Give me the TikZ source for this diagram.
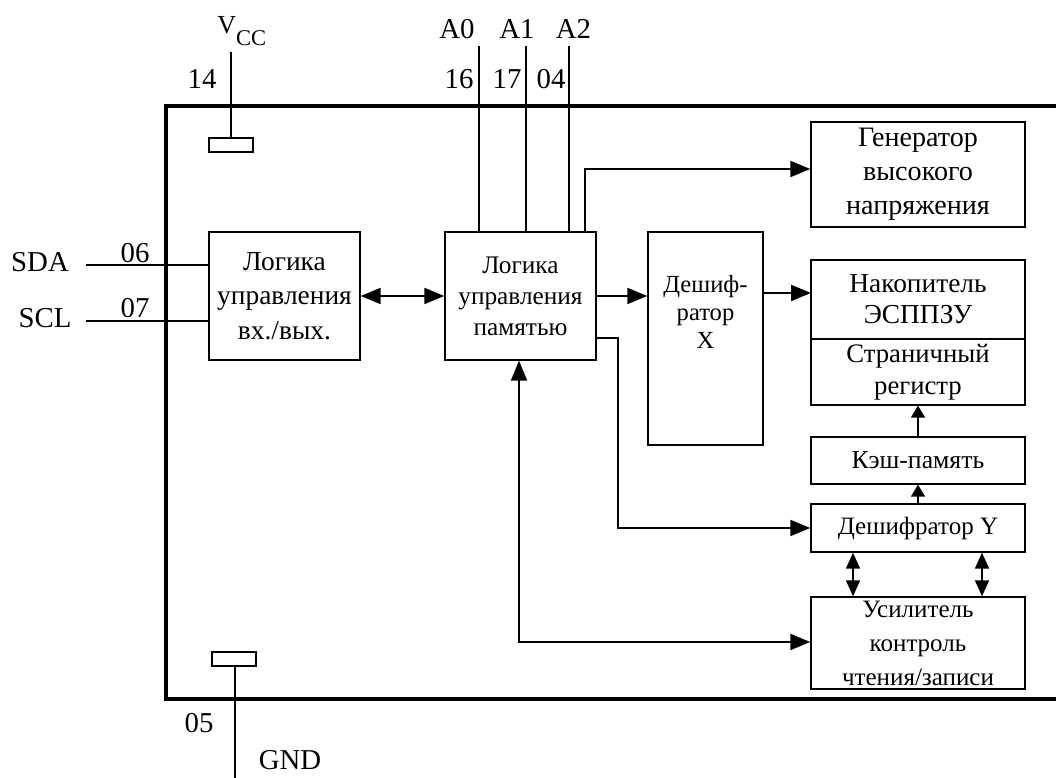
\documentclass[tikz,border=0pt]{standalone}
\usepackage{fontspec}
\setmainfont{Liberation Serif}
\usetikzlibrary{arrows.meta}
\pgfdeclarelayer{edgelayer}
\pgfdeclarelayer{nodelayer}
\pgfsetlayers{edgelayer,nodelayer,main}
\tikzstyle{block}=[draw=black, line width=1pt, fill=white, inner sep=0pt, align=center, font=\fontsize{19.5}{24.5}\selectfont]
\tikzstyle{pad}=[draw=black, line width=0.8pt, fill=white, minimum width=1.1cm, minimum height=0.35cm, inner sep=0pt]
\tikzstyle{pin}=[font=\fontsize{20.5}{24}\selectfont, inner sep=0pt]
\tikzstyle{chip}=[draw=black, line width=2.5pt]
\tikzstyle{wire}=[draw=black, line width=0.8pt]
\tikzstyle{flow}=[draw=black, line width=1.5pt, -{Triangle[length=0.5cm,width=0.4cm]}]
\tikzstyle{dflow}=[draw=black, line width=1.5pt, {Triangle[length=0.5cm,width=0.4cm]}-{Triangle[length=0.5cm,width=0.4cm]}]
\tikzstyle{sflow}=[draw=black, line width=1.2pt, -{Triangle[length=0.3cm,width=0.35cm]}]
\tikzstyle{dsflow}=[draw=black, line width=1.2pt, {Triangle[length=0.4cm,width=0.35cm]}-{Triangle[length=0.4cm,width=0.35cm]}]

\begin{document}
\begin{tikzpicture}
			\useasboundingbox (0, 0) rectangle (26.4, 19.45);
			\begin{pgfonlayer}{nodelayer}
			\node [style=block, minimum width=3.775cm, minimum height=3.2cm] (0) at (7.1125, 12.05) {Логика\\управления\\вх./вых.};
			\node [style=block, minimum width=3.775cm, minimum height=3.2cm, font=\fontsize{18}{22}\selectfont] (1) at (13.0125, 12.05) {Логика\\управления\\памятью};
			\node [style=block, minimum width=2.875cm, minimum height=5.325cm] (2) at (17.6375, 10.9875) {};
			\node [style=block, minimum width=5.35cm, minimum height=2.625cm, font=\fontsize{20}{24.2}\selectfont] (3) at (22.95, 15.0875) {Генератор\\высокого\\напряжения};
			\node [style=block, minimum width=5.35cm, minimum height=1.975cm, font=\fontsize{19.5}{22}\selectfont] (4) at (22.95, 11.9625) {Накопитель\\ЭСППЗУ};
			\node [style=block, minimum width=5.35cm, minimum height=1.65cm, font=\fontsize{19}{22.5}\selectfont] (5) at (22.95, 10.15) {Страничный\\регистр};
			\node [style=block, minimum width=5.35cm, minimum height=1.175cm, font=\fontsize{18.3}{22}\selectfont] (6) at (22.95, 7.9375) {Кэш-память};
			\node [style=block, minimum width=5.35cm, minimum height=1.2cm, font=\fontsize{17.8}{22}\selectfont] (7) at (22.95, 6.25) {Дешифратор Y};
			\node [style=block, minimum width=5.35cm, minimum height=2.3cm, font=\fontsize{17.8}{24.2}\selectfont] (8) at (22.95, 3.375) {Усилитель\\контроль\\чтения/записи};
			\node [style=pad] (9) at (5.775, 15.825) {};
			\node [style=pad] (10) at (5.85, 2.975) {};
			\node [style=pin, anchor=base west] (11) at (5.425, 18.6) {{\fontsize{18.5}{20}\selectfont V}\raisebox{-8.5pt}{\fontsize{16}{16}\selectfont CC}};
			\node [style=pin, anchor=base] (12) at (5.05, 17.225) {14};
			\node [style=pin, anchor=base] (13) at (11.425, 18.475) {A0};
			\node [style=pin, anchor=base] (14) at (12.925, 18.475) {A1};
			\node [style=pin, anchor=base] (15) at (14.3375, 18.475) {A2};
			\node [style=pin, anchor=base] (16) at (11.475, 17.225) {16};
			\node [style=pin, anchor=base] (17) at (12.675, 17.225) {17};
			\node [style=pin, anchor=base] (18) at (13.775, 17.225) {04};
			\node [style=pin] (19) at (1.0, 12.9) {SDA};
			\node [style=pin] (20) at (1.125, 11.5) {SCL};
			\node [style=pin] (21) at (3.375, 13.125) {06};
			\node [style=pin] (22) at (3.375, 11.75) {07};
			\node [style=pin, anchor=base] (23) at (4.975, 1.125) {05};
			\node [style=pin, anchor=base] (24) at (7.25, 0.2) {GND};
			\node [align=center, inner sep=0pt, font=\fontsize{17.5}{19.6}\selectfont] (25) at (17.6375, 11.65) {Дешиф-\\ратор\\X};
			\end{pgfonlayer}
			\coordinate (26) at (5.775, 18.15);
			\coordinate (27) at (11.975, 18.3);
			\coordinate (28) at (13.15, 18.3);
			\coordinate (29) at (14.225, 18.3);
			\coordinate (30) at (14.625, 15.225);
			\coordinate (31) at (2.15, 12.825);
			\coordinate (32) at (2.15, 11.425);
			\coordinate (33) at (5.875, 0);
			\coordinate (34) at (20.275, 12.125);
			\coordinate (35) at (15.45, 11.0);
			\coordinate (36) at (12.975, 3.4);
			\begin{pgfonlayer}{edgelayer}
			\draw [style=chip] (26.4, 16.8) -- (4.15, 16.8) -- (4.15, 1.975) -- (26.4, 1.975);
			\draw [style=wire] (26) to (9.north);
			\draw [style=wire] (10.south -| 33) to (33);
			\draw [style=wire] (27) to (27 |- 1.north);
			\draw [style=wire] (28) to (28 |- 1.north);
			\draw [style=wire] (29) to (29 |- 1.north);
			\draw [style=wire] (31) to (31 -| 0.west);
			\draw [style=wire] (32) to (32 -| 0.west);
			\draw [style=flow] (30 |- 1.north) -- (30) -- (30 -| 3.west);
			\draw [style=dflow] (0.east) to (1.west);
			\draw [style=flow] (1.east) to (1.east -| 2.west);
			\draw [style=flow] (34 -| 2.east) to (34);
			\draw [style=flow] (35 -| 1.east) -- (35) |- (7.west);
			\draw [style=dflow] (36 |- 1.south) -- (36) -- (36 -| 8.west);
			\draw [style=sflow] (6.north) to (5.south);
			\draw [style=sflow] (7.north) to (6.south);
			\draw [style=dsflow] ([xshift=-1.625cm]7.south) to ([xshift=-1.625cm]8.north);
			\draw [style=dsflow] ([xshift=1.6cm]7.south) to ([xshift=1.6cm]8.north);
			\end{pgfonlayer}
\end{tikzpicture}
\end{document}
